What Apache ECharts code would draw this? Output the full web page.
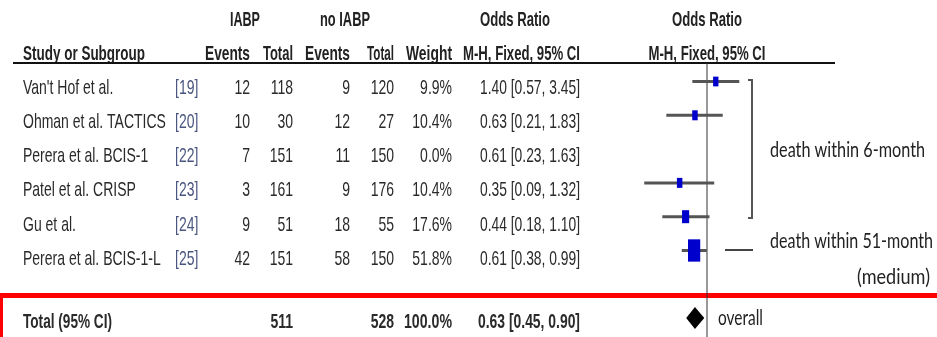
<!DOCTYPE html>
<html><head><meta charset="utf-8">
<script src="https://cdn.jsdelivr.net/npm/echarts@6/dist/echarts.min.js"></script>
<style>html,body{margin:0;padding:0;background:#fff}#c{width:937px;height:337px}</style>
</head><body><div id="c"></div>
<script>
// ---- data ----
const studies = ["Van't Hof et al.", "Ohman et al. TACTICS", "Perera et al. BCIS-1", "Patel et al. CRISP", "Gu et al.", "Perera et al. BCIS-1-L"];
const refs = ["[19]", "[20]", "[22]", "[23]", "[24]", "[25]"];
const iabpEvents = [12, 10, 7, 3, 9, 42];
const iabpTotal = [118, 30, 151, 161, 51, 151];
const noEvents = [9, 12, 11, 9, 18, 58];
const noTotal = [120, 27, 150, 176, 55, 150];
const weights = [9.9, 10.4, 0.0, 10.4, 17.6, 51.8];
const oddsRatio = [1.40, 0.63, 0.61, 0.35, 0.44, 0.61];
const ciLow = [0.57, 0.21, 0.23, 0.09, 0.18, 0.38];
const ciHigh = [3.45, 1.83, 1.63, 1.32, 1.10, 0.99];
const totalLabel = "Total (95% CI)";
const totalIabp = 511;
const totalNo = 528;
const totalWeight = 100.0;
const totalOR = 0.63, totalLow = 0.45, totalHigh = 0.90;
const groupLabels = ["death within 6-month", "death within 51-month", "(medium)", "overall"];

// ---- layout helpers ----
const TF = "'Liberation Sans', Arial, sans-serif";
const AF = "Lato, 'Noto Sans', sans-serif";
const SY = 1.5;
const mctx = document.createElement('canvas').getContext('2d');
function measure(s, size, family, bold) {
  mctx.font = (bold ? 'bold ' : '') + size + 'px ' + family;
  return mctx.measureText(String(s)).width;
}
const g = [];
function txt(s, x, y, align, o) {
  o = o || {};
  const size = o.size || 14, family = o.family || TF;
  let sx = 1;
  if (o.fit) sx = o.fit / measure(s, size, family, o.bold);
  g.push({
    type: 'text', x: x, y: y, scaleY: o.sy || SY, scaleX: sx, silent: true,
    style: {
      text: String(s), x: 0, y: 0,
      fontSize: size, fontFamily: family,
      fontWeight: o.bold ? 'bold' : 'normal',
      fill: o.color || '#2a2a2a', align: align, verticalAlign: 'middle'
    }
  });
}
const fmt2 = v => v.toFixed(2);
const ciText = (o, l, h) => fmt2(o) + ' [' + fmt2(l) + ', ' + fmt2(h) + ']';

// headers
const H = { bold: true, color: '#222' };
txt('IABP', 245, 20, 'center', Object.assign({ fit: 30 }, H));
txt('no IABP', 345, 20, 'center', Object.assign({ fit: 50 }, H));
txt('Odds Ratio', 515, 20, 'center', Object.assign({ fit: 70 }, H));
txt('Odds Ratio', 707, 20, 'center', Object.assign({ fit: 70 }, H));
txt('Study or Subgroup', 23, 54, 'left', Object.assign({ fit: 122 }, H));
txt('Events', 250, 54, 'right', Object.assign({ fit: 45 }, H));
txt('Total', 293, 54, 'right', Object.assign({ fit: 30 }, H));
txt('Events', 350, 54, 'right', Object.assign({ fit: 45 }, H));
txt('Total', 394, 54, 'right', Object.assign({ fit: 27 }, H));
txt('Weight', 452, 54, 'right', Object.assign({ fit: 46 }, H));
txt('M-H, Fixed, 95% CI', 580, 54, 'right', Object.assign({ fit: 117 }, H));
txt('M-H, Fixed, 95% CI', 707, 54, 'center', Object.assign({ fit: 117 }, H));

// rows
const rowY = i => 88 + 34.2 * i;
studies.forEach((s, i) => {
  const y = rowY(i);
  txt(s, 23, y, 'left');
  txt(refs[i], 175, y, 'left', { color: '#4a5680' });
  txt(iabpEvents[i], 250, y, 'right');
  txt(iabpTotal[i], 293, y, 'right');
  txt(noEvents[i], 350, y, 'right');
  txt(noTotal[i], 394, y, 'right');
  txt(weights[i].toFixed(1) + '%', 452, y, 'right');
  txt(ciText(oddsRatio[i], ciLow[i], ciHigh[i]), 580, y, 'right', { fit: 100 });
});
// total row
const TB = { bold: true, color: '#2a2a2a' };
txt(totalLabel, 23, 322, 'left', Object.assign({ fit: 89 }, TB));
txt(totalIabp, 293, 322, 'right', TB);
txt(totalNo, 394, 322, 'right', TB);
txt(totalWeight.toFixed(1) + '%', 452, 322, 'right', Object.assign({ fit: 48 }, TB));
txt(ciText(totalOR, totalLow, totalHigh), 580, 322, 'right', Object.assign({ fit: 102 }, TB));

// header underline
g.push({ type: 'line', silent: true, shape: { x1: 13, y1: 63, x2: 835, y2: 63 }, style: { stroke: '#111', lineWidth: 2 } });
// bracket
g.push({ type: 'polyline', silent: true, shape: { points: [[748, 80], [752, 80], [752, 218], [748, 218]] }, style: { stroke: '#555', lineWidth: 2, fill: null } });
// dash for 51-month
g.push({ type: 'line', silent: true, shape: { x1: 725, y1: 250, x2: 753, y2: 250 }, style: { stroke: '#444', lineWidth: 2 } });
// annotations
const A = { family: AF, size: 16, sy: 1.35, color: '#222' };
txt(groupLabels[0], 770, 150, 'left', Object.assign({ fit: 155 }, A));
txt(groupLabels[1], 770, 241, 'left', Object.assign({ fit: 163 }, A));
txt(groupLabels[2], 930, 277, 'right', Object.assign({ fit: 73 }, A));
txt(groupLabels[3], 718, 318, 'left', Object.assign({ fit: 45 }, A));
// red box
g.push({ type: 'rect', silent: true, shape: { x: 0.5, y: 295.5, width: 945, height: 80 }, style: { stroke: '#ff0000', lineWidth: 5, fill: null } });

// ---- forest series data ----
const forestData = studies.map((s, i) => [i, oddsRatio[i], ciLow[i], ciHigh[i], weights[i]]);
const totalIndex = 7;
const yMin = -1, yMax = 7.56;

const chart = echarts.init(document.getElementById('c'), null, { renderer: 'canvas' });
chart.setOption({
  animation: false,
  grid: { left: 587, width: 240, top: 47.7, height: 289.3 },
  xAxis: { type: 'log', min: 0.01, max: 100, logBase: 10, show: false },
  yAxis: { type: 'value', min: yMin, max: yMax, inverse: true, show: false },
  graphic: g,
  series: [
    {
      type: 'line', silent: true, symbol: 'none', z: 1,
      data: [[1, -0.55], [1, yMax]],
      lineStyle: { color: '#333', width: 1 }
    },
    {
      type: 'custom', silent: true, z: 3,
      encode: { x: [1, 2, 3], y: 0 },
      data: forestData,
      renderItem: function (params, api) {
        const i = api.value(0), w = api.value(4);
        if (!(w > 0)) return null;
        const pl = api.coord([api.value(2), i]);
        const ph = api.coord([api.value(3), i]);
        const pc = api.coord([api.value(1), i]);
        const bw = 1.7 * Math.sqrt(w), bh = 3.1 * Math.sqrt(w);
        return {
          type: 'group', children: [
            { type: 'line', shape: { x1: pl[0], y1: pl[1], x2: ph[0], y2: ph[1] }, style: { stroke: '#555', lineWidth: 3 } },
            { type: 'rect', shape: { x: pc[0] - bw / 2, y: pc[1] - bh / 2, width: bw, height: bh }, style: { fill: '#0000cc' } }
          ]
        };
      }
    },
    {
      type: 'custom', silent: true, z: 3,
      encode: { x: [1, 2, 3], y: 0 },
      data: [[totalIndex, totalOR, totalLow, totalHigh]],
      renderItem: function (params, api) {
        const i = api.value(0);
        const pl = api.coord([api.value(2), i]);
        const ph = api.coord([api.value(3), i]);
        const pc = api.coord([api.value(1), i]);
        const hh = 11;
        return {
          type: 'polygon',
          shape: { points: [[pl[0], pc[1]], [pc[0], pc[1] - hh], [ph[0], pc[1]], [pc[0], pc[1] + hh]] },
          style: { fill: '#000' }
        };
      }
    }
  ]
});
</script>
</body></html>
